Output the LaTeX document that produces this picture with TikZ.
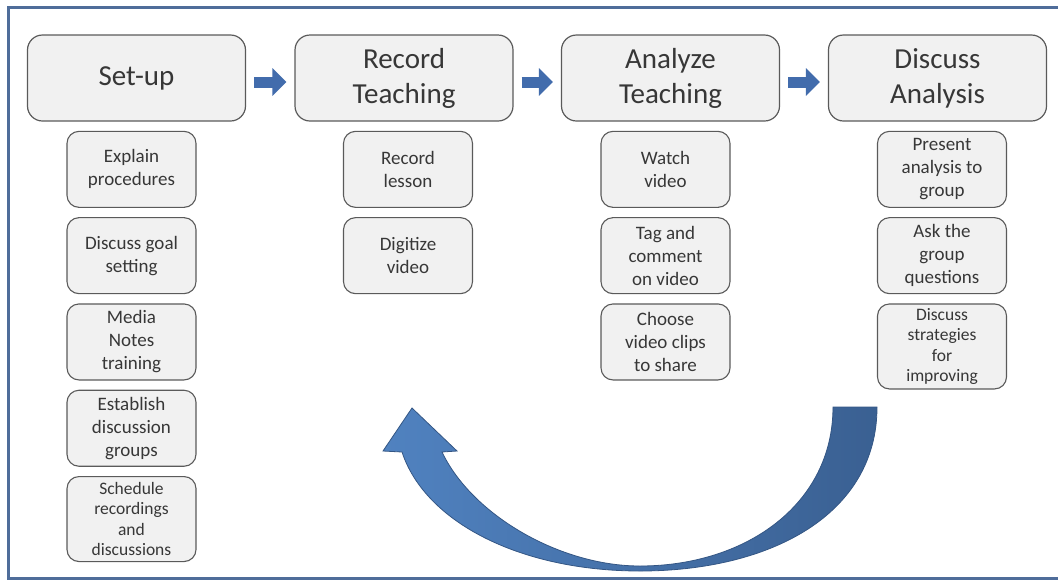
\documentclass[tikz,border=0pt]{standalone}
\usepackage{fontspec}
\setmainfont{Carlito}
\usepackage{tikz}
\usetikzlibrary{positioning}
\usetikzlibrary{arrows.meta}
\usepackage{xcolor}
\definecolor{frameblue}{RGB}{79,109,154}
\definecolor{boxfill}{RGB}{241,241,241}
\definecolor{boxline}{RGB}{90,90,90}
\definecolor{txt}{RGB}{55,55,55}
\definecolor{arrowblue}{RGB}{66,108,172}
\definecolor{loopleft}{RGB}{80,130,192}
\definecolor{loopright}{RGB}{58,96,146}
\definecolor{loopline}{RGB}{52,86,132}

\begin{document}
\begin{tikzpicture}[x=1pt, y=-1pt,
  stage/.style = {draw=boxline, fill=boxfill, line width=1.2pt, rounded corners=15pt,
    minimum width=218pt, minimum height=86pt, align=center, text=txt,
    font=\fontsize{29}{35}\selectfont},
  task/.style = {draw=boxline, fill=boxfill, line width=1.1pt, rounded corners=12pt,
    minimum width=129pt, minimum height=76pt, inner sep=2pt, align=center, text=txt,
    font=\fontsize{19}{23}\selectfont},
  longtask/.style = {task, minimum height=85pt, font=\fontsize{17.5}{20.5}\selectfont},
  flow/.style = {arrowblue, line width=11pt, -{Triangle[length=14pt,width=27pt]},
    shorten <=8pt, shorten >=8pt, transform canvas={yshift=-4pt}},
  node distance=9.2pt]
\useasboundingbox (0,0) rectangle (1058,582);
\draw[frameblue, line width=3pt] (1058,7) -- (8,7) -- (8,578) -- (1058,578);

% stages
\node[stage] (setup) at (136.5,78) {Set-up};
\node[stage] (record) at (404,78) {Record\\Teaching};
\node[stage] (analyze) at (670.5,78) {Analyze\\Teaching};
\node[stage] (discuss) at (937.5,78) {Discuss\\Analysis};
\draw[flow] (setup.east) -- (record.west);
\draw[flow] (record.east) -- (analyze.west);
\draw[flow] (analyze.east) -- (discuss.west);

% set-up tasks
\node[task] (explain) [below=of setup, xshift=-5pt] {Explain\\procedures};
\node[task] (goal) [below=of explain] {Discuss goal\\setting};
\node[task] (media) [below=of goal] {Media\\Notes\\training};
\node[task] (groups) [below=of media] {Establish\\discussion\\groups};
\node[longtask] (schedule) [below=of groups] {Schedule\\recordings\\and\\discussions};

% record tasks
\node[task] (lesson) [below=of record, xshift=4pt] {Record\\lesson};
\node[task] (digitize) [below=of lesson] {Digitize\\video};

% analyze tasks
\node[task] (watch) [below=of analyze, xshift=-5pt] {Watch\\video};
\node[task] (tag) [below=of watch] {Tag and\\comment\\on video};
\node[task] (choose) [below=of tag] {Choose\\video clips\\to share};

% discuss tasks
\node[task] (present) [below=of discuss, xshift=4.5pt] {Present\\analysis to\\group};
\node[task] (ask) [below=of present] {Ask the\\group\\questions};
\node[longtask] (strategies) [below=of ask] {Discuss\\strategies\\for\\improving};

% back to recording
\shade[left color=loopleft, right color=loopright, draw=loopline, line width=0.8pt]
  (877,407) .. controls (877,515) and (770,571) .. (640,571)
  .. controls (520,571) and (425,522) .. (402,452)
  -- (383,451) -- (412,408) -- (457,451) -- (442,452)
  .. controls (472,515) and (560,566) .. (640,566)
  .. controls (745,566) and (833,505) .. (833,407) -- cycle;
\end{tikzpicture}
\end{document}
